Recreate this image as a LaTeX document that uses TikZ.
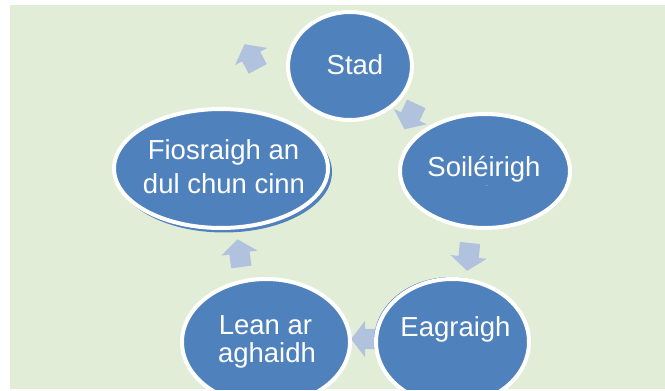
\documentclass[tikz,border=0pt]{standalone}
\usepackage{fontspec}
\setmainfont{Liberation Sans}
\usetikzlibrary{shapes.geometric,shapes.arrows}
\definecolor{bg}{HTML}{E2EDD8}
\definecolor{nodeblue}{HTML}{4F81BD}
\definecolor{arrowblue}{HTML}{B1C2DF}
\begin{document}
\begin{tikzpicture}[x=1pt,y=-1pt,
  stage/.style={ellipse, fill=nodeblue, draw=white, line width=4pt, inner sep=0pt},
  shade/.style={ellipse, fill=nodeblue, draw=none, inner sep=0pt},
  lbl/.style={text=white, font=\fontsize{27.5}{33}\selectfont, anchor=base, inner sep=0pt},
  cyc/.style={single arrow, fill=arrowblue, draw=none, minimum height=28pt,
    inner xsep=0pt, inner ysep=10pt, single arrow head extend=8pt,
    single arrow tip angle=105}]
\useasboundingbox (0,0) rectangle (665,391);
\fill[white] (0,0) rectangle (665,391);
\fill[bg] (10,5) rectangle (665,389);
\begin{scope}
\clip (10,5) rectangle (665,389);
% arrows
\node[cyc, rotate=118] (a1) at (253,60) {};
\node[cyc, rotate=245] (a2) at (412,113) {};
\node[cyc, rotate=264] (a3) at (469,253) {};
\node[cyc, rotate=180] (a4) at (369,339) {};
\node[cyc, rotate=98] (a5) at (240,257) {};
% stages
\node[stage, minimum width=124pt, minimum height=108pt] (stad) at (350,66) {};
\node[stage, minimum width=170pt, minimum height=114pt] (soil) at (485,171) {};
\node[shade, minimum width=216pt, minimum height=121pt] (fioshadow) at (224,172) {};
\node[stage, minimum width=214pt, minimum height=119pt] (fios) at (221,168.5) {};
\node[shade, minimum width=154pt, minimum height=127pt] (eagshadow) at (451,340.5) {};
\node[stage, minimum width=153pt, minimum height=126pt] (eag) at (452.5,342) {};
\node[stage, minimum width=168pt, minimum height=126pt] (lean) at (266,342) {};
% labels
\node[lbl] (stadt) at (355,74.5) {Stad};
\node[lbl] (soilt) at (484,176) {Soiléirigh};
\node[text=white, font=\fontsize{5}{5}\selectfont, inner sep=0pt] (soilm) at (487,187) {-};
\node[lbl] (fiost1) at (223.5,159) {Fiosraigh an};
\node[lbl] (fiost2) at (224,193) {dul chun cinn};
\node[lbl] (eagt) at (455.5,336) {Eagraigh};
\node[lbl] (leant1) at (265.5,334) {Lean ar};
\node[lbl] (leant2) at (267,362) {aghaidh};
\end{scope}
\end{tikzpicture}
\end{document}
